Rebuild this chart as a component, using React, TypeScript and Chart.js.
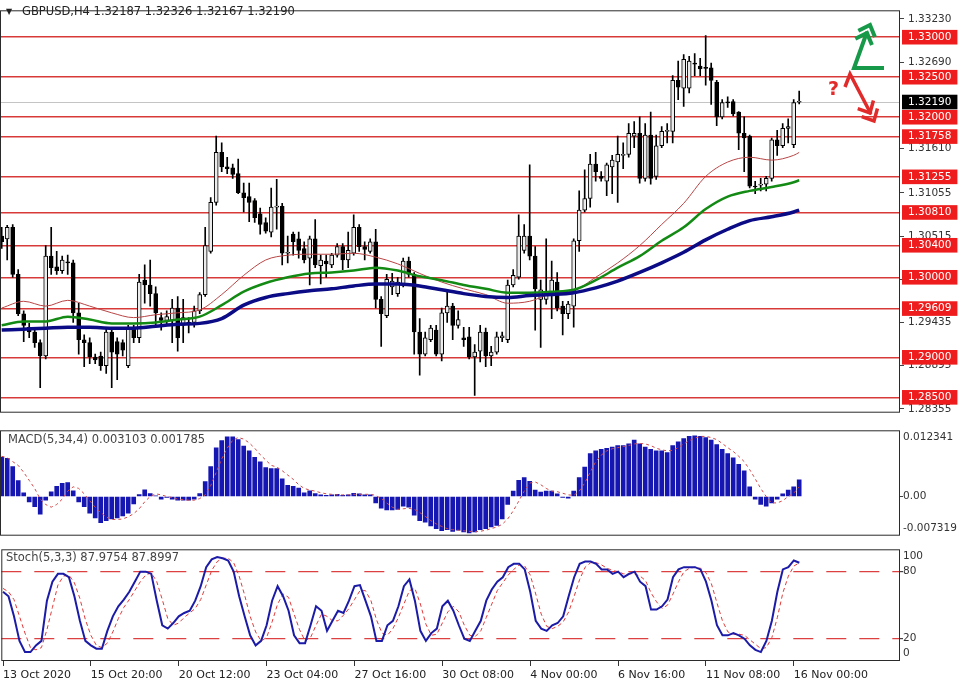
import React, { useEffect, useRef } from "react";
import { Chart, registerables } from "chart.js";
Chart.register(...registerables);

const FONT = "'DejaVu Sans', Verdana, sans-serif";

// ---------- DATA ----------
const symbolLabel = "GBPUSD,H4";

const openP = [
  1.30516, 1.3048, 1.30624, 1.30036, 1.29544, 1.29376, 1.29316, 1.29184, 1.29016, 1.30264,
  1.30132, 1.30084, 1.30192, 1.3018, 1.29556, 1.2922, 1.29184, 1.29004, 1.29016, 1.28896,
  1.29316, 1.29196, 1.29184, 1.28896, 1.29364, 1.29244, 1.29964, 1.29904, 1.29796, 1.29496,
  1.2946, 1.2946, 1.29616, 1.294, 1.29412, 1.29436, 1.2958, 1.29784, 1.30324, 1.30936,
  1.3156, 1.3138, 1.31368, 1.31296, 1.31056, 1.31008, 1.3096, 1.30792, 1.30684, 1.30564,
  1.30876, 1.30888, 1.303, 1.3054, 1.3048, 1.3036, 1.3024, 1.3048, 1.30144, 1.30204,
  1.30156, 1.30276, 1.30384, 1.30216, 1.303, 1.30624, 1.30384, 1.30324, 1.30444, 1.29724,
  1.2952, 1.2988, 1.29796, 1.29916, 1.30204, 1.30036, 1.29316, 1.2904, 1.2922, 1.2934,
  1.2904, 1.29556, 1.2964, 1.294, 1.29244, 1.29256, 1.29004, 1.29076, 1.29316, 1.29016,
  1.29064, 1.29244, 1.2922, 1.29904, 1.3, 1.30336, 1.30516, 1.30264, 1.29724, 1.29724,
  1.29796, 1.2994, 1.2964, 1.29544, 1.2964, 1.30456, 1.3084, 1.30984, 1.31416, 1.3126,
  1.312, 1.3138, 1.3144, 1.31524, 1.31536, 1.31764, 1.318, 1.31236, 1.31776, 1.3126,
  1.31644, 1.31824, 1.31824, 1.3246, 1.32364, 1.32364, 1.32676, 1.3264, 1.32616, 1.32616,
  1.32436, 1.32004, 1.32184, 1.32196, 1.32064, 1.318, 1.31764, 1.3114, 1.31152, 1.31164,
  1.31236, 1.31716, 1.31644, 1.3186, 1.31656, 1.32187,
];
const highP = [
  1.30624, 1.30648, 1.3066, 1.30096, 1.2958, 1.29424, 1.29364, 1.2922, 1.30396, 1.30624,
  1.30324, 1.30264, 1.30276, 1.30216, 1.29676, 1.2928, 1.29244, 1.2904, 1.29064, 1.29364,
  1.2934, 1.29244, 1.2922, 1.294, 1.294, 1.30036, 1.30156, 1.30216, 1.2988, 1.29556,
  1.2958, 1.29724, 1.2976, 1.29724, 1.29496, 1.2964, 1.29808, 1.30624, 1.30996, 1.31764,
  1.3168, 1.315, 1.31416, 1.31476, 1.31176, 1.31176, 1.30984, 1.30864, 1.30744, 1.31116,
  1.31224, 1.30924, 1.30516, 1.30564, 1.30564, 1.30444, 1.30516, 1.3072, 1.30276, 1.30276,
  1.303, 1.3042, 1.3042, 1.30564, 1.3078, 1.3066, 1.30444, 1.3048, 1.306, 1.2976,
  1.30036, 1.30048, 1.3, 1.3024, 1.30252, 1.3006, 1.29484, 1.29316, 1.294, 1.294,
  1.29616, 1.2982, 1.29676, 1.2958, 1.29376, 1.29376, 1.2916, 1.294, 1.29364, 1.29136,
  1.29316, 1.29316, 1.29964, 1.30096, 1.3078, 1.3066, 1.31404, 1.30384, 1.29964, 1.3048,
  1.30204, 1.3006, 1.297, 1.297, 1.3048, 1.3108, 1.31344, 1.31536, 1.3156, 1.3132,
  1.31428, 1.31524, 1.31764, 1.3168, 1.3192, 1.31944, 1.32004, 1.3192, 1.32064, 1.31776,
  1.31884, 1.3192, 1.3252, 1.327, 1.32784, 1.3276, 1.32796, 1.32736, 1.3302, 1.32676,
  1.3246, 1.3222, 1.32256, 1.3222, 1.3207, 1.32004, 1.31776, 1.312, 1.31236, 1.3126,
  1.3174, 1.31836, 1.3192, 1.3198, 1.3222, 1.32326,
];
const lowP = [
  1.3036, 1.30216, 1.3, 1.2952, 1.29196, 1.29244, 1.29124, 1.2862, 1.2898, 1.30036,
  1.30036, 1.30048, 1.30036, 1.29436, 1.2904, 1.28884, 1.2892, 1.2892, 1.28836, 1.288,
  1.2862, 1.2872, 1.29016, 1.28872, 1.29184, 1.29184, 1.29676, 1.2964, 1.294, 1.2934,
  1.294, 1.29184, 1.29076, 1.29184, 1.29304, 1.29376, 1.29544, 1.2976, 1.303, 1.309,
  1.3132, 1.31296, 1.31236, 1.31044, 1.30816, 1.30696, 1.30684, 1.3054, 1.30552, 1.30504,
  1.306, 1.30156, 1.3018, 1.30276, 1.3024, 1.3018, 1.29904, 1.3012, 1.29916, 1.3,
  1.3012, 1.30252, 1.30096, 1.3012, 1.30276, 1.30324, 1.30216, 1.303, 1.29616, 1.29136,
  1.29496, 1.29784, 1.2976, 1.2988, 1.3, 1.2904, 1.28776, 1.29016, 1.29196, 1.29016,
  1.28956, 1.29436, 1.2922, 1.29364, 1.29136, 1.2898, 1.28524, 1.28944, 1.28884, 1.28896,
  1.2904, 1.29196, 1.29184, 1.2988, 1.29976, 1.303, 1.30216, 1.2934, 1.29124, 1.29664,
  1.29484, 1.2958, 1.2928, 1.29484, 1.29376, 1.30324, 1.30816, 1.30876, 1.312, 1.312,
  1.3102, 1.31044, 1.30936, 1.31356, 1.315, 1.3162, 1.31176, 1.312, 1.31164, 1.31224,
  1.3162, 1.3168, 1.3168, 1.3222, 1.32136, 1.32304, 1.3252, 1.3252, 1.324, 1.3216,
  1.31896, 1.3198, 1.32124, 1.32016, 1.31596, 1.3132, 1.31116, 1.31044, 1.3108, 1.3108,
  1.312, 1.31524, 1.3162, 1.3168, 1.3162, 1.32167,
];
const closeP = [
  1.30444, 1.30624, 1.30036, 1.29544, 1.294, 1.29316, 1.29184, 1.29016, 1.30264, 1.3012,
  1.30084, 1.30216, 1.3018, 1.29556, 1.2922, 1.29184, 1.29004, 1.28968, 1.28896, 1.29316,
  1.29064, 1.2904, 1.29088, 1.29364, 1.29244, 1.2994, 1.29904, 1.29796, 1.29556, 1.2946,
  1.29508, 1.29616, 1.29244, 1.29496, 1.29436, 1.2958, 1.29784, 1.30396, 1.30936, 1.3156,
  1.3138, 1.31356, 1.31284, 1.31056, 1.30996, 1.30936, 1.30744, 1.3066, 1.30576, 1.30876,
  1.30888, 1.303, 1.30312, 1.30444, 1.30336, 1.30216, 1.3048, 1.30156, 1.30216, 1.30168,
  1.30276, 1.30384, 1.30216, 1.30336, 1.30624, 1.30384, 1.30348, 1.30444, 1.29724, 1.29544,
  1.29976, 1.29952, 1.2994, 1.30204, 1.30036, 1.29316, 1.2904, 1.29244, 1.29364, 1.2904,
  1.29556, 1.2964, 1.294, 1.29472, 1.2922, 1.29004, 1.29064, 1.29316, 1.29016, 1.29064,
  1.29256, 1.29268, 1.29904, 1.30024, 1.30516, 1.30516, 1.30264, 1.29856, 1.29844, 1.29796,
  1.29964, 1.29616, 1.29544, 1.29664, 1.30456, 1.3084, 1.30984, 1.31416, 1.3132, 1.31236,
  1.31404, 1.31464, 1.31536, 1.31536, 1.318, 1.318, 1.31236, 1.31776, 1.31236, 1.31644,
  1.31824, 1.31836, 1.3246, 1.32376, 1.32724, 1.327, 1.32664, 1.32604, 1.3261, 1.3246,
  1.32004, 1.32184, 1.3218, 1.3204, 1.318, 1.3174, 1.3114, 1.31128, 1.31164, 1.31236,
  1.31716, 1.31644, 1.3186, 1.31884, 1.32184, 1.3219,
];

// moving averages sampled at these bar indices
const maIdx = [0, 4, 8, 12, 16, 20, 24, 28, 32, 36, 40, 44, 48, 52, 56, 60, 64, 68, 72, 76, 80, 84, 88, 92, 96, 100, 104, 108, 112, 116, 120, 124, 128, 132, 136, 140, 144, 145];
const maFast = [
  1.29616, 1.297, 1.2964, 1.29712, 1.2964, 1.29556, 1.29496, 1.29532, 1.29556, 1.29592,
  1.29784, 1.30024, 1.30216, 1.30276, 1.30288, 1.30288, 1.303, 1.30252, 1.30168, 1.30048,
  1.2994, 1.29856, 1.29784, 1.29676, 1.297, 1.29796, 1.29832, 1.3, 1.3018, 1.30396,
  1.3066, 1.30924, 1.3126, 1.3144, 1.315, 1.31464, 1.31524, 1.3156,
];
const maMid = [
  1.294, 1.29448, 1.29448, 1.29508, 1.29472, 1.29424, 1.29424, 1.29436, 1.29472, 1.29508,
  1.29652, 1.2982, 1.29928, 1.3, 1.30048, 1.3006, 1.30084, 1.3012, 1.30084, 1.30012,
  1.29964, 1.29904, 1.29856, 1.29808, 1.29808, 1.2982, 1.29844, 1.29964, 1.3012, 1.30264,
  1.30456, 1.30624, 1.30852, 1.31008, 1.3108, 1.31128, 1.31188, 1.31212,
];
const maSlow = [
  1.2934, 1.29352, 1.29364, 1.29376, 1.29376, 1.29364, 1.29364, 1.29388, 1.29412, 1.29424,
  1.29484, 1.29652, 1.29748, 1.29796, 1.29832, 1.29856, 1.29892, 1.29916, 1.29916, 1.29892,
  1.29844, 1.29796, 1.2976, 1.29748, 1.29772, 1.29784, 1.29808, 1.29868, 1.29952, 1.3006,
  1.3018, 1.30312, 1.30468, 1.306, 1.30708, 1.30756, 1.30816, 1.3084,
];

const levels = [1.33, 1.325, 1.32, 1.31758, 1.31255, 1.3081, 1.304, 1.3, 1.29609, 1.29, 1.285];
const priceTicks = [1.3323, 1.3269, 1.3161, 1.31055, 1.30515, 1.29975, 1.29435, 1.28895, 1.28355];
const lastPrice = 1.3219;

const macdHist = [
  0.00736, 0.00713, 0.00557, 0.00296, 0.0007, -0.00104, -0.00191, -0.00331, -0.0007, 0.00087,
  0.00191, 0.00244, 0.00261, 0.00104, -0.00104, -0.00191, -0.00313, -0.004, -0.00487, -0.00452,
  -0.00418, -0.004, -0.00365, -0.00313, -0.00139, 0.00035, 0.00122, 0.00052, 0.0001, -0.00052,
  -0.00017, -0.00052, -0.0007, -0.0007, -0.0007, -0.00052, 0.00052, 0.00278, 0.00557, 0.00905,
  0.01044, 0.01114, 0.01114, 0.01061, 0.0094, 0.00853, 0.00731, 0.00644, 0.00539, 0.00522,
  0.00522, 0.00331, 0.00209, 0.00191, 0.00157, 0.0007, 0.00104, 0.00052, 0.0003, 0.0002,
  0.0003, 0.0004, 0.0002, 0.0003, 0.0006, 0.0005, 0.0003, 0.0003, -0.0012, -0.0022,
  -0.0025, -0.0025, -0.0024, -0.0018, -0.002, -0.0035, -0.0045, -0.0048, -0.0055, -0.006,
  -0.0064, -0.0062, -0.0065, -0.0063, -0.0066, -0.0068, -0.0066, -0.0062, -0.006, -0.0057,
  -0.0054, -0.0042, -0.0015, 0.001, 0.003, 0.0035, 0.0028, 0.0012, 0.0008, 0.001,
  0.001, 0.0005, -0.0002, -0.0003, 0.001, 0.0035, 0.0055, 0.008, 0.0085, 0.0088,
  0.009, 0.0092, 0.0095, 0.0095, 0.0098, 0.0105, 0.0098, 0.0092, 0.0088, 0.0085,
  0.0085, 0.0082, 0.0095, 0.0102, 0.0108, 0.0112, 0.0113, 0.0112, 0.011, 0.0105,
  0.0097, 0.0088, 0.008, 0.0072, 0.006, 0.0048, 0.0018, -0.0005, -0.0015, -0.0018,
  -0.0012, -0.0005, 0.0005, 0.0012, 0.0018, 0.003103,
];
const macdSignal = [
  0.0075, 0.0072, 0.0065, 0.0058, 0.0045, 0.003, 0.0015, -0.0005, -0.0015, -0.002,
  -0.0015, -0.0005, 0.001, 0.0018, 0.0015, 0.0005, -0.0008, -0.002, -0.003, -0.0038,
  -0.0043, -0.0043, -0.0042, -0.0038, -0.0032, -0.0023, -0.001, 0, 0.0005, 0.0003,
  0, -0.0002, -0.0005, -0.0006, -0.0007, -0.0007, -0.0004, 0.0003, 0.002, 0.0045,
  0.007, 0.009, 0.0105, 0.011, 0.0107, 0.01, 0.009, 0.0078, 0.0068, 0.0058,
  0.0055, 0.0048, 0.004, 0.0032, 0.0022, 0.0015, 0.0012, 0.001, 0.0007, 0.0005,
  0.0004, 0.0003, 0.0003, 0.0003, 0.0004, 0.0004, 0.0004, 0.0004, 0.0002, -0.0004,
  -0.0012, -0.002, -0.0024, -0.0023, -0.0022, -0.0024, -0.003, -0.0037, -0.0045, -0.0051,
  -0.0056, -0.006, -0.0062, -0.0063, -0.0064, -0.0065, -0.0066, -0.0065, -0.0063, -0.006,
  -0.0057, -0.0052, -0.0042, -0.0027, -0.0009, 0.001, 0.0025, 0.0027, 0.0022, 0.0015,
  0.001, 0.0009, 0.0006, 0.0003, 0.0002, 0.001, 0.0025, 0.0045, 0.0065, 0.0077,
  0.0085, 0.0089, 0.0091, 0.0093, 0.0095, 0.0098, 0.0099, 0.0098, 0.0095, 0.009,
  0.0087, 0.0085, 0.0086, 0.0091, 0.0098, 0.0104, 0.0109, 0.0112, 0.0112, 0.011,
  0.0106, 0.0099, 0.0091, 0.0084, 0.0075, 0.0065, 0.005, 0.0033, 0.0015, 0,
  -0.0012, -0.0012, -0.0008, 0, 0.0006, 0.001785,
];
const macdMax = 0.012341;
const macdMin = -0.007319;
const macdZeroLabel = "0.00";

const stochK = [
  62, 58, 40, 18, 8, 8, 14, 18, 54, 71,
  78, 78, 75, 58, 36, 18, 14, 11, 11, 27,
  40, 49, 55, 62, 71, 80, 80, 78, 54, 32,
  29, 34, 40, 43, 45, 54, 67, 84, 91, 93,
  92, 90, 80, 58, 40, 23, 14, 18, 32, 54,
  67, 58, 45, 23, 16, 16, 32, 49, 45, 27,
  36, 45, 43, 54, 67, 68, 54, 40, 18, 18,
  32, 36, 49, 67, 73, 54, 27, 18, 25, 29,
  49, 54, 45, 32, 20, 18, 27, 36, 54, 64,
  71, 75, 84, 87, 87, 82, 62, 36, 29, 27,
  32, 34, 40, 58, 75, 87, 89, 89, 87, 82,
  82, 78, 80, 75, 78, 80, 71, 67, 46, 46,
  49, 55, 75, 82, 84, 84, 84, 82, 71, 54,
  32, 23, 23, 25, 23, 20, 14, 10, 8, 18,
  36, 62, 82, 84, 90, 87.9754,
];
const stochD = [
  65, 62, 55, 40, 25, 12, 10, 12, 28, 48,
  68, 76, 77, 70, 56, 37, 23, 14, 12, 16,
  26, 38, 48, 55, 63, 71, 77, 79, 71, 55,
  38, 32, 34, 39, 43, 47, 55, 68, 81, 89,
  92, 92, 88, 76, 59, 40, 26, 18, 21, 35,
  51, 60, 57, 42, 28, 18, 21, 32, 42, 40,
  36, 36, 41, 47, 55, 63, 63, 54, 37, 25,
  23, 29, 39, 51, 63, 65, 51, 33, 23, 24,
  34, 44, 49, 44, 32, 23, 22, 27, 39, 51,
  63, 70, 77, 82, 86, 85, 77, 60, 42, 31,
  29, 31, 35, 44, 58, 73, 84, 88, 88, 86,
  83, 81, 80, 78, 78, 78, 76, 72, 61, 53,
  47, 50, 60, 71, 80, 83, 84, 83, 79, 69,
  52, 36, 26, 24, 24, 23, 19, 15, 11, 12,
  21, 39, 61, 76, 85, 87.8997,
];
const stochLevels = [80, 20];
const stochMax = 100;
const stochMin = 0;

const timeTickIndex = [0, 16, 32, 48, 64, 80, 96, 112, 128, 144];
const timeTickLabels = [
  "13 Oct 2020", "15 Oct 20:00", "20 Oct 12:00", "23 Oct 04:00", "27 Oct 16:00",
  "30 Oct 08:00", "4 Nov 00:00", "6 Nov 16:00", "11 Nov 08:00", "16 Nov 00:00",
];

// ---------- LAYOUT ----------
const X_MIN = -0.31;
const X_MAX = 163.33;
const AXIS_W = 62;

const fmt5 = (v: number) => v.toFixed(5);

const framePlugin = {
  id: "frame",
  afterDatasetsDraw(chart: any) {
    const { ctx, chartArea: a } = chart;
    ctx.save();
    ctx.strokeStyle = "#2b2b2b";
    ctx.lineWidth = 1;
    ctx.strokeRect(a.left + 0.5, a.top + 0.5, a.right - a.left - 1, a.bottom - a.top - 1);
    ctx.restore();
  },
};

function arrowHead(ctx: any, tx: number, ty: number, dx: number, dy: number, len: number, ang: number) {
  const n = Math.hypot(dx, dy);
  const bx = -dx / n, by = -dy / n;
  const c = Math.cos(ang), s = Math.sin(ang);
  const ax1 = tx + len * (bx * c - by * s), ay1 = ty + len * (bx * s + by * c);
  const ax2 = tx + len * (bx * c + by * s), ay2 = ty + len * (-bx * s + by * c);
  ctx.beginPath();
  ctx.moveTo(ax1, ay1);
  ctx.lineTo(tx, ty);
  ctx.lineTo(ax2, ay2);
  ctx.stroke();
}

export default function App() {
  const mainRef = useRef<HTMLCanvasElement>(null);
  const macdRef = useRef<HTMLCanvasElement>(null);
  const stochRef = useRef<HTMLCanvasElement>(null);

  useEffect(() => {
    Chart.defaults.font.family = FONT;
    Chart.defaults.font.size = 10.5;
    const charts: any[] = [];
    const L = openP.length - 1;
    const idx = openP.map((_, i) => i);

    // ----- main chart -----
    const mainTicks = [...priceTicks, ...levels, lastPrice];
    const nT = priceTicks.length;
    const nL = levels.length;
    const kind = (i: number) => (i < nT ? "tick" : i < nT + nL ? "level" : "last");

    const headerPlugin = {
      id: "header",
      afterDraw(chart: any) {
        const { ctx } = chart;
        ctx.save();
        ctx.textBaseline = "middle";
        ctx.textAlign = "left";
        ctx.fillStyle = "#222";
        ctx.font = `8px ${FONT}`;
        ctx.fillText("▼", 6, 12);
        ctx.font = `11.5px ${FONT}`;
        const txt = `${symbolLabel} ${fmt5(openP[L])} ${fmt5(highP[L])} ${fmt5(lowP[L])} ${fmt5(closeP[L])}`;
        ctx.fillText(txt, 22, 12);

        // forecast arrows
        ctx.lineCap = "butt";
        ctx.lineJoin = "miter";
        ctx.strokeStyle = "#17994a";
        ctx.lineWidth = 4;
        ctx.beginPath();
        ctx.moveTo(884, 68);
        ctx.lineTo(854, 68);
        ctx.lineTo(867, 32);
        ctx.stroke();
        arrowHead(ctx, 870, 25, 14, -37, 13, 0.75);
        arrowHead(ctx, 867, 33, 14, -37, 13, 0.75);

        ctx.strokeStyle = "#e12a2a";
        ctx.lineWidth = 3.5;
        ctx.beginPath();
        ctx.moveTo(845, 87);
        ctx.lineTo(850, 74);
        ctx.lineTo(871, 114);
        ctx.stroke();
        arrowHead(ctx, 874, 121, 22, 42, 13, 0.75);
        arrowHead(ctx, 870, 113, 22, 42, 13, 0.75);
        ctx.fillStyle = "#e12a2a";
        ctx.font = `bold 19px ${FONT}`;
        ctx.textBaseline = "alphabetic";
        ctx.fillText("?", 828, 95);
        ctx.restore();
      },
    };

    const mainChart = new Chart(mainRef.current as any, {
      type: "bar",
      data: {
        datasets: [
          {
            type: "line", label: "MA slow",
            data: maIdx.map((x, k) => ({ x, y: maSlow[k] })),
            borderColor: "#0b0b86", borderWidth: 3.5, pointRadius: 0,
            cubicInterpolationMode: "monotone", order: 1,
          },
          {
            type: "line", label: "MA mid",
            data: maIdx.map((x, k) => ({ x, y: maMid[k] })),
            borderColor: "#138a13", borderWidth: 2.5, pointRadius: 0,
            cubicInterpolationMode: "monotone", order: 2,
          },
          {
            type: "line", label: "MA fast",
            data: maIdx.map((x, k) => ({ x, y: maFast[k] })),
            borderColor: "#b84545", borderWidth: 1, pointRadius: 0,
            cubicInterpolationMode: "monotone", order: 3,
          },
          {
            type: "bar", label: "body",
            data: idx.map((i) => ({ x: i, y: [openP[i], closeP[i]] })),
            barThickness: 4, grouped: false,
            backgroundColor: (c: any) => (closeP[c.dataIndex] >= openP[c.dataIndex] ? "#ececec" : "#000"),
            borderColor: "#000", borderWidth: 1, borderSkipped: false, minBarLength: 1, order: 4,
          },
          {
            type: "bar", label: "wick",
            data: idx.map((i) => ({ x: i, y: [lowP[i], highP[i]] })),
            barThickness: 1, grouped: false, backgroundColor: "#000", order: 5,
          },
        ] as any,
      },
      options: {
        animation: false,
        responsive: false,
        events: [],
        layout: { padding: { top: 2, bottom: 2, left: 0, right: 0 } },
        plugins: { legend: { display: false }, tooltip: { enabled: false } },
        scales: {
          x: { type: "linear", min: X_MIN, max: X_MAX, offset: false, display: false, grid: { offset: false } },
          y: {
            type: "linear", position: "right", min: 1.28308, max: 1.33336,
            afterBuildTicks: (s: any) => { s.ticks = mainTicks.map((v) => ({ value: v })); },
            afterFit: (s: any) => { s.width = AXIS_W; },
            border: { display: false },
            grid: {
              drawOnChartArea: true, drawTicks: true, tickLength: 4,
              color: (c: any) => (kind(c.index) === "level" ? "#d83a3a" : kind(c.index) === "last" ? "#c4c4c4" : "rgba(0,0,0,0)"),
              lineWidth: (c: any) => (kind(c.index) === "level" ? 1.5 : 1),
              tickColor: (c: any) => (kind(c.index) === "tick" ? "#444" : "rgba(0,0,0,0)"),
            },
            ticks: {
              autoSkip: false, padding: 4,
              font: { size: 10.5, family: FONT },
              color: (c: any) => (kind(c.index) === "tick" ? "#333" : "#fff"),
              showLabelBackdrop: (c: any) => kind(c.index) !== "tick",
              backdropColor: (c: any) => (kind(c.index) === "last" ? "#000" : "#ee1c1c"),
              backdropPadding: { left: 6, right: 6, top: 1, bottom: 1 },
              callback: (v: any) => fmt5(Number(v)),
            },
          },
        },
      } as any,
      plugins: [framePlugin, headerPlugin],
    });
    charts.push(mainChart);

    // ----- MACD -----
    const edgeLabels = (topTxt: string, botTxt: string, title: string, titleX: number, titleDy: number) => ({
      id: "edges",
      afterDraw(chart: any) {
        const { ctx, chartArea: a } = chart;
        const ys = chart.scales.y;
        ctx.save();
        ctx.font = `10.5px ${FONT}`;
        ctx.fillStyle = "#333";
        ctx.textAlign = "left";
        ctx.textBaseline = "top";
        ctx.fillText(topTxt, a.right + 3, ys.getPixelForValue(ys.max) + 2);
        ctx.textBaseline = "bottom";
        ctx.fillText(botTxt, a.right + 3, ys.getPixelForValue(ys.min) - 2);
        ctx.font = `11.5px ${FONT}`;
        ctx.fillStyle = "#444";
        ctx.textBaseline = "middle";
        ctx.fillText(title, titleX, a.top + titleDy);
        ctx.restore();
      },
    });

    const macdChart = new Chart(macdRef.current as any, {
      type: "bar",
      data: {
        datasets: [
          {
            type: "line", label: "signal",
            data: idx.map((i) => ({ x: i, y: macdSignal[i] })),
            borderColor: "#d24a4a", borderWidth: 1, borderDash: [3, 3], pointRadius: 0, order: 0,
          },
          {
            type: "bar", label: "MACD",
            data: idx.map((i) => ({ x: i, y: macdHist[i] })),
            backgroundColor: "#1616b2", barThickness: 4, grouped: false, order: 1,
          },
        ] as any,
      },
      options: {
        animation: false, responsive: false, events: [],
        layout: { padding: { top: 3, bottom: 1, left: 0, right: 0 } },
        plugins: { legend: { display: false }, tooltip: { enabled: false } },
        scales: {
          x: { type: "linear", min: X_MIN, max: X_MAX, offset: false, display: false, grid: { offset: false } },
          y: {
            type: "linear", position: "right", min: macdMin, max: macdMax,
            afterBuildTicks: (s: any) => { s.ticks = [{ value: 0 }]; },
            afterFit: (s: any) => { s.width = AXIS_W; },
            border: { display: false },
            grid: { drawOnChartArea: false, tickLength: 3, tickColor: "#444" },
            ticks: { padding: 0, color: "#333", font: { size: 10.5, family: FONT }, callback: () => macdZeroLabel },
          },
        },
      } as any,
      plugins: [
        framePlugin,
        edgeLabels(macdMax.toFixed(6), macdMin.toFixed(6),
          `MACD(5,34,4) ${macdHist[L].toFixed(6)} ${macdSignal[L].toFixed(6)}`, 8, 10),
      ],
    });
    charts.push(macdChart);

    // ----- Stochastic -----
    const stochChart = new Chart(stochRef.current as any, {
      type: "line",
      data: {
        datasets: [
          {
            label: "%K", data: idx.map((i) => ({ x: i, y: stochK[i] })),
            borderColor: "#1b1ba8", borderWidth: 2, pointRadius: 0, order: 0,
          },
          {
            label: "%D", data: idx.map((i) => ({ x: i, y: stochD[i] })),
            borderColor: "#e03c3c", borderWidth: 1, borderDash: [4, 3], pointRadius: 0, order: 1,
          },
        ] as any,
      },
      options: {
        animation: false, responsive: false, events: [],
        layout: { padding: { top: 4, bottom: 0, left: 0, right: 0 } },
        plugins: { legend: { display: false }, tooltip: { enabled: false } },
        scales: {
          x: {
            type: "linear", min: X_MIN, max: X_MAX, offset: false,
            afterBuildTicks: (s: any) => { s.ticks = timeTickIndex.map((v) => ({ value: v })); },
            afterFit: (s: any) => { s.height = 23; },
            border: { display: false },
            grid: { drawOnChartArea: false, tickLength: 5, tickColor: "#333", offset: false },
            ticks: {
              autoSkip: false, maxRotation: 0, minRotation: 0, align: "start", padding: 3,
              color: "#222", font: { size: 11, family: FONT },
              callback: (_v: any, i: number) => timeTickLabels[i],
            },
          },
          y: {
            type: "linear", position: "right", min: stochMin, max: stochMax,
            afterBuildTicks: (s: any) => { s.ticks = stochLevels.map((v) => ({ value: v })); },
            afterFit: (s: any) => { s.width = AXIS_W; },
            border: { display: false, dash: [20, 13] },
            grid: { drawOnChartArea: true, color: "#dd4040", lineWidth: 1.2, tickLength: 3, tickColor: "#444" },
            ticks: { padding: 0, color: "#333", font: { size: 10.5, family: FONT }, callback: (v: any) => String(v) },
          },
        },
      } as any,
      plugins: [
        framePlugin,
        edgeLabels(String(stochMax), String(stochMin),
          `Stoch(5,3,3) ${stochK[L].toFixed(4)} ${stochD[L].toFixed(4)}`, 6, 9),
      ],
    });
    charts.push(stochChart);

    return () => charts.forEach((c) => c.destroy());
  }, []);

  return (
    <div style={{ position: "relative", width: 962, height: 684, background: "#fff", overflow: "hidden" }}>
      <style>{"body{margin:0;background:#fff}"}</style>
      <canvas ref={mainRef} width={962} height={423} style={{ position: "absolute", left: 0, top: 0 }} />
      <canvas ref={macdRef} width={962} height={118} style={{ position: "absolute", left: 0, top: 424 }} />
      <canvas ref={stochRef} width={962} height={141} style={{ position: "absolute", left: 0, top: 543 }} />
    </div>
  );
}
